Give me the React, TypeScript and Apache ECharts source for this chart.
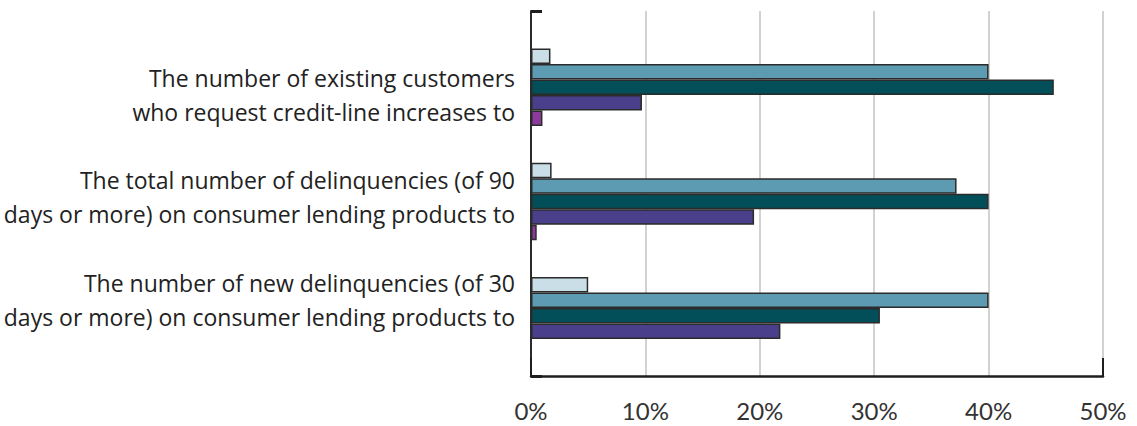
import React, { useEffect, useRef } from "react";
import * as echarts from "echarts";

const categories = [
  "The number of existing customers\nwho request credit-line increases to",
  "The total number of delinquencies (of 90\ndays or more) on consumer lending products to",
  "The number of new delinquencies (of 30\ndays or more) on consumer lending products to",
];

const seriesNames = ["Series 1", "Series 2", "Series 3", "Series 4", "Series 5"];
const series1 = [1.7, 1.8, 5.0];
const series2 = [40, 37.2, 40];
const series3 = [45.7, 40, 30.5];
const series4 = [9.7, 19.5, 21.8];
const series5: (number | null)[] = [1.0, 0.5, null];

const xTicks = [0, 10, 20, 30, 40, 50];

const colors = ["#c9dee6", "#5c9bb1", "#024f5a", "#4a3f8b", "#8d3a9c"];

export default function App() {
  const ref = useRef<HTMLDivElement>(null);

  useEffect(() => {
    document.body.style.margin = "0";
    const chart = echarts.init(ref.current!, undefined, { renderer: "svg" });
    const values = [series1, series2, series3, series4, series5];
    const xMin = xTicks[0];
    const xMax = xTicks[xTicks.length - 1];
    const step = xTicks[1] - xTicks[0];

    chart.setOption({
      animation: false,
      backgroundColor: "#ffffff",
      grid: [
        { left: 531, right: 34, top: 11, bottom: 50 },
        { left: 531, right: 34, top: 30, bottom: 53 },
        { left: 531, right: 34, top: 43.25, bottom: 75.25 },
      ],
      xAxis: [
        {
          gridIndex: 0,
          type: "value",
          position: "bottom",
          min: xMin,
          max: xMax,
          interval: step,
          axisLine: { show: true, lineStyle: { color: "#1e1e1e", width: 2.5 } },
          axisTick: { show: false },
          splitLine: { show: true, lineStyle: { color: "#d2d2d2", width: 2 } },
          axisLabel: {
            formatter: "{value}%",
            fontFamily: "Lato",
            fontSize: 24,
            color: "#333333",
            margin: 22,
          },
        },
        {
          gridIndex: 0,
          type: "value",
          position: "bottom",
          min: xMin,
          max: xMax,
          interval: xMax - xMin,
          axisLine: { show: false },
          axisTick: { show: true, inside: true, length: 18, lineStyle: { color: "#1e1e1e", width: 2 } },
          splitLine: { show: false },
          axisLabel: { show: false },
        },
        { gridIndex: 1, type: "value", min: xMin, max: xMax, show: false },
        { gridIndex: 2, type: "value", min: xMin, max: xMax, show: false },
      ],
      yAxis: [
        {
          gridIndex: 0,
          type: "category",
          data: ["", ""],
          boundaryGap: false,
          axisLine: { show: true, lineStyle: { color: "#2a2a2a", width: 2 } },
          axisTick: { show: true, inside: true, length: 11, lineStyle: { color: "#1e1e1e", width: 3 } },
          axisLabel: { show: false },
          splitLine: { show: false },
        },
        {
          gridIndex: 1,
          type: "category",
          data: categories,
          inverse: true,
          show: false,
        },
        {
          gridIndex: 2,
          type: "category",
          data: categories,
          inverse: true,
          axisLine: { show: false },
          axisTick: { show: false },
          splitLine: { show: false },
          axisLabel: {
            margin: 16,
            fontFamily: "Open Sans",
            fontSize: 23,
            lineHeight: 34,
            color: "#222222",
            align: "right",
          },
        },
      ],
      series: values.map((v, i) => ({
        name: seriesNames[i],
        type: "bar",
        xAxisIndex: 2,
        yAxisIndex: 1,
        data: v,
        barWidth: 15.5,
        barGap: "0%",
        itemStyle: { color: colors[i], borderColor: "#2b2b2b", borderWidth: 1.5 },
      })),
    });

    return () => chart.dispose();
  }, []);

  return <div ref={ref} style={{ width: 1137, height: 426 }} />;
}
